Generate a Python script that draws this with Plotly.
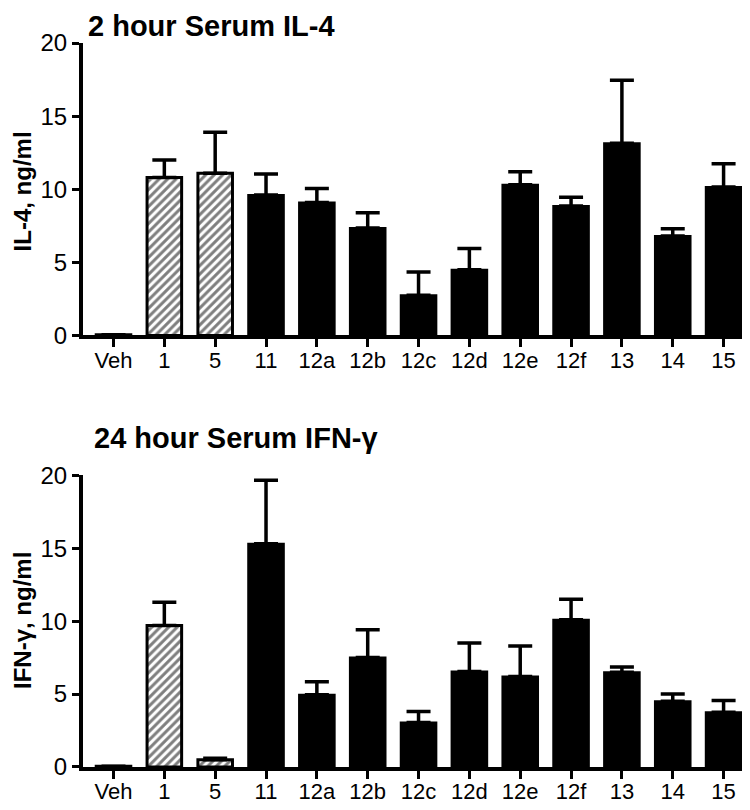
import plotly.graph_objects as go

# compounds on the x axis
compounds = ["Veh", "1", "5", "11", "12a", "12b", "12c", "12d", "12e", "12f", "13", "14", "15"]
hatched = ["Veh", "1", "5"]

# 2 hour serum IL-4, ng/ml (mean and upper error)
il4_mean = [0.05, 10.8, 11.1, 9.6, 9.1, 7.35, 2.75, 4.5, 10.3, 8.85, 13.15, 6.8, 10.15]
il4_err = [0, 1.2, 2.8, 1.45, 0.95, 1.05, 1.6, 1.45, 0.9, 0.6, 4.3, 0.5, 1.6]

# 24 hour serum IFN-gamma, ng/ml
ifn_mean = [0.05, 9.7, 0.5, 15.3, 4.95, 7.5, 3.05, 6.55, 6.2, 10.1, 6.5, 4.5, 3.75]
ifn_err = [0, 1.6, 0.1, 4.35, 0.9, 1.9, 0.75, 1.95, 2.1, 1.4, 0.35, 0.5, 0.8]

yticks = [0, 5, 10, 15, 20]

fig = go.Figure()


def add_panel(means, errs, xa, ya):
    # hatched bars for vehicle and reference compounds, solid black for the rest
    hx = [c for c in compounds if c in hatched]
    sx = [c for c in compounds if c not in hatched]
    hm = [m for c, m in zip(compounds, means) if c in hatched]
    he = [e for c, e in zip(compounds, errs) if c in hatched]
    sm = [m for c, m in zip(compounds, means) if c not in hatched]
    se = [e for c, e in zip(compounds, errs) if c not in hatched]
    eb = dict(thickness=3.5, width=12, color="black")
    fig.add_trace(go.Bar(
        x=hx, y=hm, xaxis=xa, yaxis=ya, width=0.68,
        marker=dict(color="white", line=dict(color="black", width=3),
                    pattern=dict(shape="/", fgcolor="black", bgcolor="white",
                                 size=6, solidity=0.5)),
        error_y=dict(type="data", symmetric=False, array=he,
                     arrayminus=[0] * len(he), **eb),
        showlegend=False))
    fig.add_trace(go.Bar(
        x=sx, y=sm, xaxis=xa, yaxis=ya, width=0.7,
        marker=dict(color="black", line=dict(color="black", width=2)),
        error_y=dict(type="data", symmetric=False, array=se,
                     arrayminus=[0] * len(se), **eb),
        showlegend=False))


add_panel(il4_mean, il4_err, "x", "y")
add_panel(ifn_mean, ifn_err, "x2", "y2")

tickfont = dict(family="Liberation Sans, Arial", size=22, color="black")
xax = dict(type="category", categoryorder="array", categoryarray=compounds,
           range=[-0.6, 12.5], showline=True, linecolor="black", linewidth=4,
           ticks="outside", ticklen=8, tickwidth=3, tickcolor="black",
           ticklabelstandoff=-6,
           showgrid=False, zeroline=False, tickfont=tickfont)
yax = dict(range=[0, 20], tickvals=yticks, showline=True, linecolor="black",
           linewidth=4, ticks="outside", ticklen=7, tickwidth=3, tickcolor="black",
           showgrid=False, zeroline=False, tickfont=dict(tickfont, size=24))

# page body has an 8px margin, so the figure is 8px smaller each way
fig.update_layout(
    width=742, height=802,
    margin=dict(l=75, r=1, t=35, b=43, autoexpand=False),
    plot_bgcolor="white", paper_bgcolor="white",
    barmode="overlay",
    xaxis=dict(xax, anchor="y"),
    yaxis=dict(yax, domain=[0.596, 1], anchor="x"),
    xaxis2=dict(xax, anchor="y2"),
    yaxis2=dict(yax, domain=[0, 0.403], anchor="x2"),
)

bold = dict(family="Liberation Sans, Arial", size=29, color="black")
ybold = dict(family="Liberation Sans, Arial", size=24, color="black")
fig.add_annotation(text="<b>2 hour Serum IL-4</b>", xref="paper", yref="paper",
                   x=0.004, y=1.048, xanchor="left", yanchor="top",
                   showarrow=False, font=bold)
fig.add_annotation(text="<b>24 hour Serum IFN-γ</b>", xref="paper", yref="paper",
                   x=0.013, y=0.455, xanchor="left", yanchor="middle",
                   showarrow=False, font=bold)
fig.add_annotation(text="<b>IL-4, ng/ml</b>", xref="paper", yref="paper",
                   x=-0.0916, y=0.795, xanchor="center", yanchor="middle",
                   textangle=-90, showarrow=False, font=ybold)
fig.add_annotation(text="<b>IFN-γ, ng/ml</b>", xref="paper", yref="paper",
                   x=-0.0916, y=0.203, xanchor="center", yanchor="middle",
                   textangle=-90, showarrow=False, font=ybold)

fig.write_html("out.html")
